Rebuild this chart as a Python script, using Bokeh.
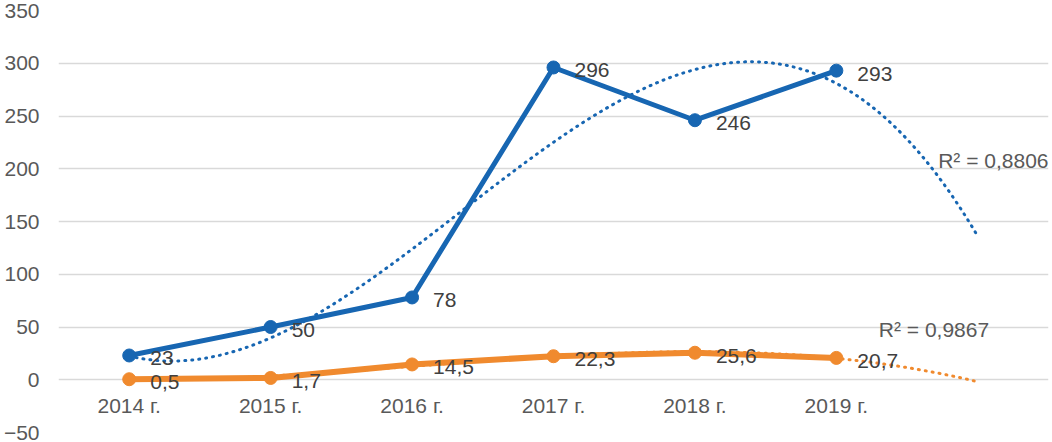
import numpy as np
from bokeh.plotting import figure
from bokeh.models import ColumnDataSource, Label, Range1d, FixedTicker
from bokeh.core.properties import value
from bokeh.embed import file_html
from bokeh.resources import INLINE

# ---- data ----
years = ["2014 г.", "2015 г.", "2016 г.", "2017 г.", "2018 г.", "2019 г."]
blue_vals = [23, 50, 78, 296, 246, 293]
orange_vals = [0.5, 1.7, 14.5, 22.3, 25.6, 20.7]
blue_labels = ["23", "50", "78", "296", "246", "293"]
orange_labels = ["0,5", "1,7", "14,5", "22,3", "25,6", "20,7"]
r2_blue = "R² = 0,8806"
r2_orange = "R² = 0,9867"
y_ticks = [-50, 0, 50, 100, 150, 200, 250, 300, 350]
trend_degree = 3
forecast_periods = 1

BLUE = "#1766b2"
ORANGE = "#f08a2e"
GRID = "#d9d9d9"
AXIS_TXT = "#595959"
LBL_TXT = "#404040"
FONT = "Liberation Sans"
FS = "21px"

xs = list(range(1, len(years) + 1))

p = figure(width=1052, height=442, output_backend="svg", toolbar_location=None,
           x_range=Range1d(0.5, len(years) + forecast_periods + 0.5),
           y_range=Range1d(y_ticks[0], y_ticks[-1]),
           min_border_left=55, min_border_right=4, min_border_top=10, min_border_bottom=10)
p.outline_line_color = None
p.background_fill_color = "white"
p.border_fill_color = "white"

p.xaxis.visible = False
p.xgrid.visible = False
p.ygrid.grid_line_color = GRID
p.ygrid.grid_line_width = 1.5

yax = p.yaxis[0]
yax.ticker = FixedTicker(ticks=y_ticks)
yax.axis_line_color = None
yax.major_tick_line_color = None
yax.minor_tick_line_color = None
yax.major_tick_out = 0
yax.major_tick_in = 0
yax.major_label_standoff = 19
yax.major_label_text_font = FONT
yax.major_label_text_font_size = FS
yax.major_label_text_color = AXIS_TXT

# ---- trend lines (polynomial fit, forecast forward one period) ----
xt = np.linspace(1, len(years) + forecast_periods, 300)
for vals, col in ((blue_vals, BLUE), (orange_vals, ORANGE)):
    coef = np.polyfit(xs, vals, trend_degree)
    p.line(xt, np.polyval(coef, xt), line_color=col, line_width=3,
           line_dash="1 6", line_cap="round")

# ---- series ----
src_b = ColumnDataSource(dict(x=xs, y=blue_vals, t=blue_labels))
src_o = ColumnDataSource(dict(x=xs, y=orange_vals, t=orange_labels))
for src, col, lw in ((src_b, BLUE, 5), (src_o, ORANGE, 6)):
    p.line("x", "y", source=src, line_color=col, line_width=lw, line_join="round")
    p.scatter("x", "y", source=src, size=13, fill_color=col, line_color=col)
    p.text("x", "y", text="t", source=src, x_offset=21, y_offset=3,
           text_align="left", text_baseline="middle", text_color=LBL_TXT,
           text_font=value(FONT), text_font_size=FS)

# ---- category labels along the zero line ----
axis_y = 0
src_c = ColumnDataSource(dict(x=xs, y=[axis_y] * len(xs), t=years))
p.text("x", "y", text="t", source=src_c, y_offset=26, text_align="center",
       text_baseline="middle", text_color=AXIS_TXT, text_font=value(FONT),
       text_font_size=FS)

# ---- R² labels ----
p.add_layout(Label(x=6.72, y=208, text=r2_blue, text_baseline="middle",
                   text_color=AXIS_TXT, text_font=FONT, text_font_size=FS))
p.add_layout(Label(x=6.30, y=48, text=r2_orange, text_baseline="middle",
                   text_color=AXIS_TXT, text_font=FONT, text_font_size=FS))

open("out.html", "w").write(file_html(p, INLINE))
